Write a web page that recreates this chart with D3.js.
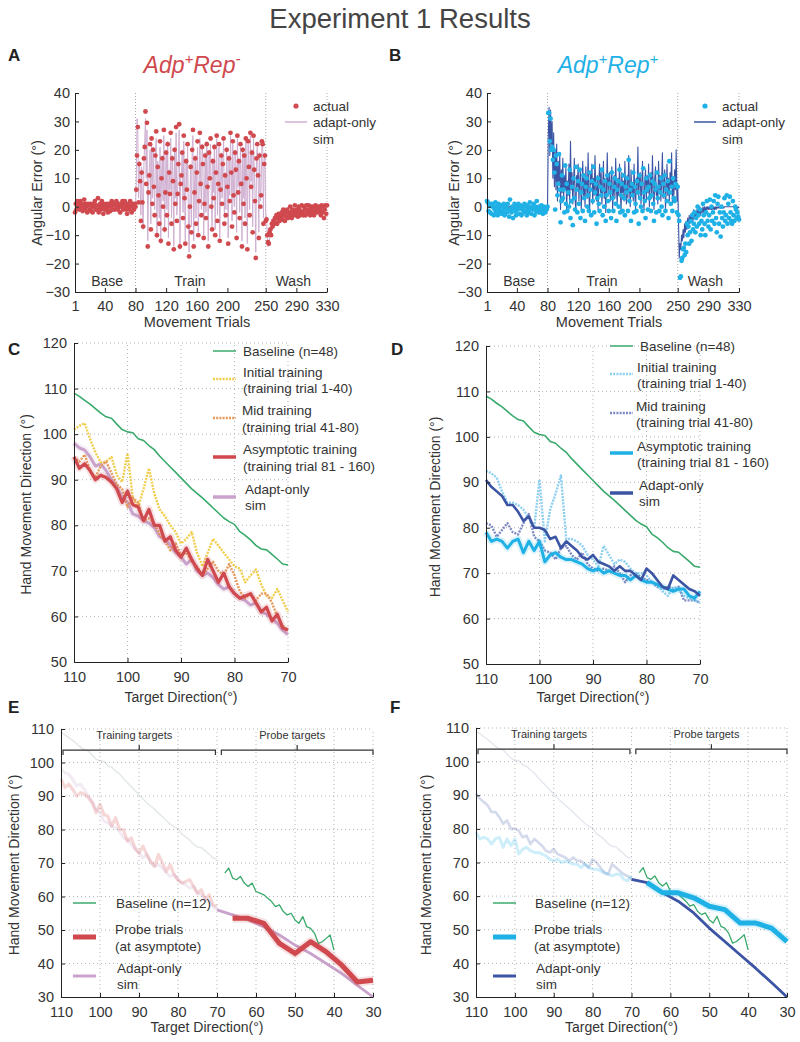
<!DOCTYPE html>
<html>
<head>
<meta charset="utf-8">
<script src="https://cdn.jsdelivr.net/npm/d3@7"></script>
<style>
  body { margin: 0; background: #fff; }
  text { font-family: Arial, "Liberation Sans", Helvetica, sans-serif; }
</style>
</head>
<body>
<svg id="fig" width="800" height="1042"></svg>
<script>
// ---------- panel A / B : trial-by-trial angular error ----------
var trialTicks = [1, 40, 80, 120, 160, 200, 250, 290, 330];
var errTicks = [-30, -20, -10, 0, 10, 20, 30, 40];
var phaseLines = [80, 250, 330];
var phaseNames = ["Base", "Train", "Wash"];

var aActualBase = [-2,1,-1,2,0.5,1.5,-1,2,0,1, -1.5,0,2.5,-1,1,0,-2,1,0.5,-1, 1,-1.5,0,-2,1,0,2,-1,0.5,-1,
  3,-2,0,1,-1,2,0,-2.5,1,-1, 0,-1,1,-2,0,1,-1.5,0,2,-1, 1,0.5,-1,1,2,0,-1,1,0,-2,
  1,0,2,-1,1,2,0,-1,-2.5,1, 0,-1,2,0,-2,1,0.5,-1,1,0];
var aActualTrain = [6,18,28,1.5,15,9,-5,12,1.5,-7, 17,21,33.5,8,29.5,-14,5,11,22,-8, 24,1,20,7,-3,18,26.5,-10,14,4,
  -6,23,-12,10,17,0,27,-8,5,19, -3,22,-13,12,4.5,26,-6,17,9,-15, 20,1,28,-5,4.5,15,29,-14,8,11,
  19,-4,25,3,-13,16,6,22,-7,-17.5, 0,14,-9,20,27,-14,5,17,-6,12, 23,-10,2,26,8,-3,21,15,-11,1,
  18,-4,22,7,-14,19,10,24,0,-8, 16,3,21,-10,12,25,-5,8,22,-12, 6,18,1,15,24,-6,11,-3,20,7,
  -13,17,2,26,12,-7,23,4,-2,19, 13,-11,25,5,16,-4,22,8,-14,20, 1,18,-6,24,10,-15,23,14,-3,26,
  7,19,-9,25,13,2,-18,17,22,11, -11,18,0,4,23,22,-6,15,18,-5];
var aActualWash = [-4.5,-10,-12.5,-13,-9,-8,-10,-6,-7,-5, -6,-4,-5.5,-3,-6,-4,-2.5,-5,-3,-4, -2,-4.5,-1,-3,-5,-2,-3.5,-1,-4,-2,
  -3,0,-2,-4,-1,-3,-2,0.5,-3,-1, -2,-3.5,0,-1,-3,-2,0.5,-2,-3,0, -1,-3,0.5,-2,-1,0.5,-2,-3,0,-1,
  -2,0,-3,-1,0.5,-2,0,-1,-2,0, -1,-3,0.5,-2,0,-4,-1,0.5,-2.5,0.5];

var aSimBase = [0,0.5,0.2,0.4,0.1,0.3,-0.1,0.2,0,0.3, -0.2,0,0.4,-0.1,0.2,0,-0.3,0.1,0.2,-0.1, 0.2,-0.2,0,-0.3,0.1,0,0.3,-0.1,0.1,-0.1,
  0.4,-0.2,0,0.2,-0.1,0.3,0,-0.3,0.1,-0.1, 0,-0.1,0.2,-0.2,0,0.1,-0.2,0,0.3,-0.1, 0.2,0.1,-0.1,0.1,0.3,0,-0.1,0.2,0,-0.3,
  0.1,0,0.3,-0.1,0.1,0.3,0,-0.1,-0.3,0.1, 0,-0.1,0.3,0,-0.2,0.1,0,-0.1,0.1,0];
var aSimTrain = [8,31,26,3,16,10,-3,14,3,-8, 15,23,31,10,27,-12,6,13,20,-6, 22,3,21,8,-1,19,24,-11,16,5,
  -4,21,-13,12,18,2,25,-9,7,20, -1,23,-11,13,6,24,-4,18,10,-14, 21,3,26,-3,6,17,27,-15,10,12,
  20,-2,23,5,-12,17,7,21,-5,-16, 2,15,-7,21,25,-12,7,18,-4,13, 21,-9,4,24,10,-1,22,16,-10,3,
  19,-2,23,9,-12,20,11,22,2,-7, 17,5,22,-8,13,24,-3,10,21,-11, 8,19,3,16,23,-4,12,-1,21,9,
  -11,18,4,25,13,-5,22,6,0,20, 14,-9,24,7,17,-2,21,10,-12,21, 3,19,-4,23,12,-13,22,15,-1,25,
  9,20,-7,24,14,4,-16,18,21,12, -9,19,2,6,22,23,-4,16,19,-3];
var aSimWash = [-3,-11,-14,-13,-11,-10,-9.5,-8.5,-8,-7.5, -7,-6.5,-6,-6,-5.5,-5,-5,-4.5,-4.5,-4, -4,-3.5,-3.5,-3.5,-3,-3,-3,-2.5,-2.5,-2.5,
  -2.5,-2,-2,-2,-2,-2,-1.5,-1.5,-1.5,-1.5, -1.5,-1.5,-1.5,-1,-1,-1,-1,-1,-1,-1, -1,-1,-1,-0.5,-0.5,-0.5,-0.5,-0.5,-0.5,-0.5,
  -0.5,-0.5,-0.5,-0.5,-0.5,-0.5,-0.5,-0.5,-0.5,-0.5, -0.5,0,0,0,0,0,0,0,0,0];

var bActualBase = [2,1.5,-1.5,0.5,-2,1,-2.5,0,1,-3, -1,1.5,-2,0,-3,1,-1,-2,0.5,-2.5, 0,-1.5,1,-3,-0.5,0,-2,1,-1,-3.5,
  2.5,-1,-2,0,-4,-0.5,1,-1.5,-3,0, -1,1,-2.5,-0.5,0.5,-3,-1,0,-2,1, -1.5,0,-3,0.5,-1,-2,1.5,-0.5,-2.5,0,
  -1,1,-3,0,-1.5,2,-0.5,-2,0,-1, -2,0.5,-1,-2.5,0,-1,-2,-0.5,-1,0];
var bActualTrain = [33,33,23,31,20,21,16.5,20,12,-1, 18,15,4,8,18.5,6,-5.5,2,11,3, 6,-2,14.5,1,8,-1.5,5,0,13,-4,
  2,7,-6.5,10,3,-1,14,6,-2,9, 1,13,-4,5,8,-1.5,11,3,-5,7, 10,0,4,-1.5,12,6,-3,9,2,14,
  -2,5,8,-6,3,10,1,-1.5,7,4, 13,-3,6,0,9,-5,4,11,2,-1.5, 8,5,-4,12,3,-1.5,7,10,1,-5,
  6,9,0,13,-2,4,8,-1.5,11,3, -3,7,5,10,-1.5,16.5,2,6,-5,8, 4,12,-2,7,1,-1.5,9,5,-6,11,
  3,0,8,-1.5,13.5,5,2,-4,10,6, -1,7,3,11,-1.5,4,9,1,-5,8, 6,-2,12,3,7,-1.5,5,10,0,-3,
  8,4,11,-1.5,6,2,9,-4,16,5, 1,7,-1.5,10,3,2,8,7.5,-2,7];
var bActualWash = [-3,-5,-25,-24.5,-19,-18,-15,-14.5,-17,-13, -16,-6,-10,-7,-13,-9,-5,-12,-3,-8, -6,-2,-9,-4,-7,0,-3,-6,-1,-10,
  -5,-8,1,-3,-6,-10,-2,2,-5,-7, -3,2.5,-8,0,-5,-2,2,-6,4,-4, -9,1,3.5,-6,-2,-10.5,0,-4,-7,-2,
  3,-5,-3,4,-6,1,-4,3.5,-2,-5, -6,2,-3,-5,0,-1,-4,-2,-3.5,-4.5];

var bSimBase = [0.2,0.1,-0.1,0,-0.2,0.1,-0.2,0,0.1,-0.3, -0.1,0.1,-0.2,0,-0.3,0.1,-0.1,-0.2,0,-0.2, 0,-0.1,0.1,-0.3,0,0,-0.2,0.1,-0.1,-0.3,
  0.2,-0.1,-0.2,0,-0.3,0,0.1,-0.1,-0.3,0, -0.1,0.1,-0.2,0,0,-0.3,-0.1,0,-0.2,0.1, -0.1,0,-0.3,0,-0.1,-0.2,0.1,0,-0.2,0,
  -0.1,0.1,-0.3,0,-0.1,0.2,0,-0.2,0,-0.1, -0.2,0,-0.1,-0.2,0,-0.1,-0.2,0,-0.1,0];
var bSimTrain = [25,35,18,34,22,30,10,26,7,20, 6,22,2,16,9,19,-1,13,5,17, 2,11,6,14,-1,9,4,15,1,23,
  6,12,1,8,17,3,-2,11,7,15, 2,9,13,-1,6,16,4,10,0,14, 7,3,19,5,-2,12,8,15,1,10,
  4,18,6,2,11,-1,9,15,5,12, 1,7,16,3,10,-2,6,19,4,9, 12,2,8,14,-1,5,11,3,17,6,
  1,10,4,15,7,-2,12,5,9,2, 16,6,1,11,3,18,7,0,13,5, 8,2,15,4,-1,10,6,21,3,9,
  12,1,7,16,4,-1,9,13,2,11, 5,15,0,8,12,3,18,6,-1,10, 14,4,7,1,16,6,11,2,9,19,
  3,8,13,-1,6,15,4,10,2,12, 7,19,1,9,4,13,6,20,2,8];
var bSimWash = [-5,-18,-13,-15,-10,-12,-8,-11,-6,-9, -5,-8,-4,-7,-3,-6,-3,-5,-2,-5, -1,-4,-2,-4,-1,-3,-1,-3,0,-3,
  -1,-2,0,-2,0,-2,0,-1,0,-1, 0,-1,0,-1,0,-1,0,-1,0,-1, 0,-0.5,0,-0.5,0,-0.5,0,-0.5,0,-0.5,
  0,0,0,0,0,0,0,0,0,0, 0,0,0,0,0,-0.5,0,-0.5,0,-0.5];

var aActual = aActualBase.concat(aActualTrain, aActualWash);
var aSim = aSimBase.concat(aSimTrain, aSimWash);
var bActual = bActualBase.concat(bActualTrain, bActualWash);
var bSim = bSimBase.concat(bSimTrain, bSimWash);

// ---------- panel C / D : generalisation over training targets ----------
var dirs = [110,109,108,107,106,105,104,103,102,101,100,99,98,97,96,95,94,93,92,91,90,
  89,88,87,86,85,84,83,82,81,80,79,78,77,76,75,74,73,72,71,70];
var dirTicksCD = [110, 100, 90, 80, 70];
var hmdTicksCD = [50, 60, 70, 80, 90, 100, 110, 120];

var baseline48 = [109.0,108.3,107.4,106.6,105.6,104.6,103.8,103.5,102.2,101.0,
  100.5,100.3,99.0,98.6,97.5,96.6,95.2,94.0,92.8,91.6,
  90.4,89.2,88.0,87.0,86.0,84.9,83.8,82.7,81.6,80.8,
  80.2,78.6,77.8,76.8,75.6,74.8,74.6,73.6,72.6,71.5, 71.3];
var cInitial = [101,101.8,102.4,99,96,93.8,94,95,91,89.5, 95.8,86,84,88,92.5,87,83.5,82,80,78.5,
  76,77,78.5,74,71,74,77,75.5,74,72.5, 71,70.5,67.5,69,70.3,67,64.5,64,66,63.5, 61];
var cMid = [95,94,95.5,92,90.5,93,94,91.5,89,88, 84,86,85,81,81.5,80.5,78,76.5,74.5,76,
  73.5,74,72,71,69,70.5,72,70,69,71.5, 69,65.5,64,65,63.5,65,65,63,60,58, 57];
var cAsym = [95,92.5,93.5,92,90,91,90.5,89.5,88,85, 87.5,84.5,84,81,83.5,80,80,76.5,77.5,74.5,
  73,75,72.5,70.5,69,72.5,70,67.5,69.5,66.5, 65,64,64.5,65,63,61,62,59,60.5,57.5, 57];
var cSim = [98,97,96.5,95,93,93.5,92,90,88.5,86, 85,82.5,82,81,80.5,79.5,77.5,77,75.5,74,
  73,71.5,72.5,70,69,69.5,68.5,67,66,66.5, 65,64,63.5,62.5,63,61,60.5,59.5,58.5,57, 56];

var dInitial = [92.5,92,91,88,85.5,85.5,85,84,82,80, 90.6,77,84,87.5,91.5,77.5,77.5,77,76,74,
  73,71.5,76,74,72,73,72.5,71,70,70, 69.5,68,67.5,66,65,67,66.5,65,64.5,64, 63.5];
var dMid = [81,80.5,78,79.5,81,79,78.5,81,83,78, 77,75,74.5,73,75.5,76,74,73,74.5,72,
  71,70.5,71,70.5,71.5,70,68,69.5,70,69, 68.5,68,67,66.5,67,66.5,67,64,64,64, 63.5];
var dAsym = [79,77,77.5,77,75.5,77,77.5,74.5,77,75, 77,72.5,74,74.5,73.5,73,73,72.5,72,71,
  70.5,71,70,70.5,70,69.5,69.5,68.5,69.5,68.5, 68,68,67.5,67,66.5,66,66.5,66.5,65,64.5, 66];
var dSim = [90.5,89,88,87,85,85,83.5,81.5,82.5,80, 80,79.5,77.5,78,75.5,77,76,75,73.5,73,
  74,72.5,72,71.5,70.5,71.5,70.5,70.5,69.5,68.5, 71,70,68.5,67,66.5,69.5,68.5,67.5,66.5,66, 65];

// ---------- panel E / F : probe targets ----------
var dirTicksEF = [110, 100, 90, 80, 70, 60, 50, 40, 30];
var hmdTicksEF = [30, 40, 50, 60, 70, 80, 90, 100, 110];
var probeBaseDirs = [68,67,66,65,64,63,62,61,60,59,58,57,56,55,54,53,52,51,50,49,48,47,46,45,44,43,42,41,40];
var probeBaseline12 = [67,68.5,65.5,65,66,64,63,64,61.5,61, 60.5,59.5,58.5,57,57.5,55.5,54.5,55,53,52,
  54,51,50.5,49,46,46.5,47.5,48.5,44];
var probeDirs = [66, 62, 58, 54, 50, 46, 42, 38, 34, 30];
var simProbeDirs = [70, 66, 62, 58, 54, 50, 46, 42, 38, 34, 30];
var eProbe = [53.5, 53.5, 52, 46, 43, 46.5, 43.5, 39.5, 34.5, 35];
var eSimProbe = [56, 54.5, 53, 51, 48.5, 45.5, 43, 40, 37, 33.5, 30];
var fProbe = [64, 61, 61, 59.5, 57, 56, 52, 52, 50.5, 46.5];
var fSimProbe = [65, 64, 61, 58.5, 55, 50.5, 46.5, 42.5, 38.5, 34.3, 30];

var col = {
  red: "#d0494e", lav: "#c9a2cb", cyan: "#1fb1e6", navy: "#3b54a4", green: "#3aaa6c",
  yellow: "#f1cd4c", orange: "#e59a5c", sky: "#8ccff0", slate: "#7e88c2", text: "#333"
};

var svg = d3.select("#fig");

svg.append("text").attr("x", 400).attr("y", 28).attr("text-anchor", "middle")
  .attr("font-size", 27.5).attr("fill", "#444").text("Experiment 1 Results");

function letter(x, y, t) {
  svg.append("text").attr("x", x).attr("y", y).attr("font-size", 17)
    .attr("font-weight", "bold").attr("fill", "#222").text(t);
}
letter(8, 61, "A"); letter(389, 61, "B");
letter(8, 355, "C"); letter(391, 355, "D");
letter(8, 713, "E"); letter(390, 713, "F");

function drawAxes(g, x, y, xt, yt, fs, xpad, ypad) {
  var ax = g.append("g").attr("transform", `translate(0,${y.range()[0]})`)
    .call(d3.axisBottom(x).tickValues(xt).tickSizeInner(-4).tickSizeOuter(0).tickPadding(xpad));
  var ay = g.append("g").attr("transform", `translate(${x.range()[0]},0)`)
    .call(d3.axisLeft(y).tickValues(yt).tickSizeInner(-4).tickSizeOuter(0).tickPadding(ypad));
  [ax, ay].forEach(a => {
    a.attr("font-size", fs).attr("font-family", null);
    a.selectAll("path, line").attr("stroke", "#222").attr("stroke-width", 1);
    a.selectAll("text").attr("fill", col.text);
  });
}

function grid(g, x, y, xv, yv) {
  g.selectAll(null).data(xv).join("line")
    .attr("x1", d => x(d)).attr("x2", d => x(d))
    .attr("y1", y.range()[0]).attr("y2", y.range()[1])
    .attr("stroke", "#b5b5b5").attr("stroke-dasharray", "1,3");
  g.selectAll(null).data(yv).join("line")
    .attr("y1", d => y(d)).attr("y2", d => y(d))
    .attr("x1", x.range()[0]).attr("x2", x.range()[1])
    .attr("stroke", "#b5b5b5").attr("stroke-dasharray", "1,3");
}

function series(g, x, y, xs, ys, color, w, o) {
  o = o || {};
  var line = d3.line().x((d, i) => x(xs[i])).y(d => y(d));
  if (o.band) {
    g.append("path").datum(ys).attr("d", line).attr("fill", "none")
      .attr("stroke", color).attr("stroke-width", w + 4).attr("stroke-opacity", 0.16)
      .attr("stroke-linejoin", "round");
  }
  g.append("path").datum(ys).attr("d", line).attr("fill", "none")
    .attr("stroke", color).attr("stroke-width", w)
    .attr("stroke-opacity", o.op || 1)
    .attr("stroke-dasharray", o.dash || null)
    .attr("stroke-linejoin", "round");
}

function label(g, x, y, t, fs, rot, anchor) {
  var el = g.append("text").attr("font-size", fs).attr("fill", col.text)
    .attr("text-anchor", anchor || "middle");
  if (rot) el.attr("transform", `translate(${x},${y}) rotate(-90)`);
  else el.attr("x", x).attr("y", y);
  el.text(t);
  return el;
}

function legendItem(g, x0, x1, ly, tx, lines, color, w, dash, dot) {
  if (dot) {
    g.append("circle").attr("cx", (x0 + x1) / 2).attr("cy", ly).attr("r", 2.6).attr("fill", color);
  } else {
    g.append("line").attr("x1", x0).attr("x2", x1).attr("y1", ly).attr("y2", ly)
      .attr("stroke", color).attr("stroke-width", w).attr("stroke-dasharray", dash || null);
  }
  lines.forEach(l => label(g, tx, l[1] + 5, l[0], 13.5, false, "start"));
}

function title(x, y, color, sup2) {
  var t = svg.append("text").attr("x", x).attr("y", y).attr("text-anchor", "middle")
    .attr("font-size", 23).attr("font-style", "italic").attr("fill", color);
  t.append("tspan").text("Adp");
  t.append("tspan").attr("dy", -9).attr("font-size", 15).text("+");
  t.append("tspan").attr("dy", 9).text("Rep");
  t.append("tspan").attr("dy", -9).attr("font-size", 15).text(sup2);
}

// ---------- A and B ----------
function trialPanel(x0, x1, actual, sim, dotColor, simColor, simW, yl, legX) {
  var g = svg.append("g");
  var x = d3.scaleLinear().domain([1, 330]).range([x0, x1]);
  var y = d3.scaleLinear().domain([-30, 40]).range([292, 93]);
  g.selectAll(null).data(phaseLines).join("line")
    .attr("x1", d => x(d)).attr("x2", d => x(d)).attr("y1", 292).attr("y2", 93)
    .attr("stroke", "#aaa").attr("stroke-dasharray", "1,2");
  series(g, x, y, sim.map((d, i) => i + 1), sim, simColor, simW);
  g.selectAll(null).data(actual).join("circle")
    .attr("cx", (d, i) => x(i + 1)).attr("cy", d => y(d)).attr("r", 2.4).attr("fill", dotColor);
  drawAxes(g, x, y, trialTicks, errTicks, 14.5, 9, 5);
  var phaseAt = [43, 151, 286];
  phaseNames.forEach((p, i) => label(g, x(phaseAt[i]), 286, p, 14));
  label(g, (x0 + x1) / 2 - 4, 327, "Movement Trials", 14.5);
  label(g, yl, 193, "Angular Error (°)", 14.5, true);
  legendItem(g, legX - 22, legX - 4, 106, legX + 4, [["actual", 106]], dotColor, 0, null, true);
  legendItem(g, legX - 24, legX - 2, 122, legX + 4, [["adapt-only", 122], ["sim", 139]], simColor, 1.5);
}
title(192, 73, col.red, "-");
title(608, 73, col.cyan, "+");
trialPanel(75, 327, aActual, aSim, col.red, "#d0b0d2", 1.0, 42, 309);
trialPanel(487, 739, bActual, bSim, col.cyan, col.navy, 1.1, 459, 718);

// ---------- C and D ----------
function dirPanel(x0, x1, yb, yt, yl, data, legX, baseY) {
  var g = svg.append("g");
  var x = d3.scaleLinear().domain([110, 70]).range([x0, x1]);
  var y = d3.scaleLinear().domain([50, 120]).range([yb, yt]);
  grid(g, x, y, [100, 90, 80, 70], [60, 70, 80, 90, 100, 110, 120]);
  data.forEach(s => series(g, x, y, dirs, s.v, s.c, s.w, s.o));
  drawAxes(g, x, y, dirTicksCD, hmdTicksCD, 14.5, 10, 7);
  label(g, (x0 + x1) / 2, 702, "Target Direction(°)", 14);
  label(g, yl, (yb + yt) / 2 + 2, "Hand Movement Direction (°)", 14, true);
  legendItem(g, legX, legX + 23, baseY, legX + 30, [["Baseline (n=48)", baseY]], data[0].c, 1.5);
  return {g: g, x: x, y: y};
}
var cData = [
  {v: baseline48, c: col.green, w: 1.6},
  {v: cSim, c: col.lav, w: 3, o: {band: true}},
  {v: cInitial, c: col.yellow, w: 2.4, o: {dash: "2,1.2"}},
  {v: cMid, c: col.orange, w: 2.4, o: {dash: "2,1.2"}},
  {v: cAsym, c: col.red, w: 3.2, o: {band: true}}
];
var C = dirPanel(74, 288, 662, 343, 31, cData, 213, 351);
legendItem(C.g, 213, 236, 379, 243, [["Initial training", 372], ["(training trial 1-40)", 388]], col.yellow, 2.6, "2,1.2");
legendItem(C.g, 213, 236, 418, 242, [["Mid training", 410], ["(training trial 41-80)", 427]], col.orange, 2.6, "2,1.2");
legendItem(C.g, 213, 236, 457, 243, [["Asymptotic training", 449], ["(training trial 81 - 160)", 466]], col.red, 3.5);
legendItem(C.g, 213, 236, 497, 245, [["Adapt-only", 489], ["sim", 505]], col.lav, 3.5);

var dData = [
  {v: baseline48, c: col.green, w: 1.6},
  {v: dMid, c: col.slate, w: 2.4, o: {dash: "2,1.2"}},
  {v: dInitial, c: col.sky, w: 2.4, o: {dash: "2,1.2"}},
  {v: dAsym, c: col.cyan, w: 3, o: {band: true}},
  {v: dSim, c: col.navy, w: 2.6}
];
var D = dirPanel(486, 700, 664, 346, 440, dData, 610, 346);
legendItem(D.g, 610, 633, 374, 637, [["Initial training", 367], ["(training trial 1-40)", 383]], col.sky, 2.6, "2,1.2");
legendItem(D.g, 610, 633, 413, 636, [["Mid training", 406], ["(training trial 41-80)", 422]], col.slate, 2.6, "2,1.2");
legendItem(D.g, 610, 633, 453, 637, [["Asymptotic training", 446], ["(training trial 81 - 160)", 462]], col.cyan, 3.5);
legendItem(D.g, 610, 633, 493, 639, [["Adapt-only", 485], ["sim", 501]], col.navy, 3.5);

// ---------- E and F ----------
function probePanel(x0, x1, yt, faded, probe, probeColor, simProbe, simColor, legX, legTx) {
  var g = svg.append("g");
  var x = d3.scaleLinear().domain([110, 30]).range([x0, x1]);
  var y = d3.scaleLinear().domain([30, 110]).range([997, yt]);
  grid(g, x, y, [100, 90, 80, 70, 60, 50, 40, 30], [40, 50, 60, 70, 80, 90, 100, 110]);
  faded.forEach(s => series(g, x, y, dirs, s.v, s.c, s.w, {op: 0.22}));
  series(g, x, y, probeBaseDirs, probeBaseline12, col.green, 1.3);
  series(g, x, y, simProbeDirs, simProbe, simColor, 2.8);
  series(g, x, y, probeDirs, probe, probeColor, 5, {band: true});
  drawAxes(g, x, y, dirTicksEF, hmdTicksEF, 14.5, 10, 7);
  // target-group brackets
  var by = y(103.7);
  [[110, 70.4, "Training targets"], [69.4, 30, "Probe targets"]].forEach(b => {
    var xa = x(b[0]) + 2, xb = x(b[1]), xm = (xa + xb) / 2;
    g.append("path").attr("d", `M${xa},${by + 5}V${by}H${xb}V${by + 5}M${xm},${by}V${by - 5}`)
      .attr("fill", "none").attr("stroke", "#333").attr("stroke-width", 1.2);
    label(g, xm - 5, by - 11, b[2], 11);
  });
  label(g, (x0 + x1) / 2 - 10, 1032, "Target Direction(°)", 14);
  legendItem(g, legX, legX + 23, 903, legTx, [["Baseline (n=12)", 903]], col.green, 1.5);
  legendItem(g, legX, legX + 23, 937, legTx - 1, [["Probe trials", 929], ["(at asymptote)", 946]], probeColor, 5);
  legendItem(g, legX, legX + 23, 976, legTx + 1, [["Adapt-only", 968], ["sim", 984]], simColor, 3);
  return g;
}
var E = probePanel(61, 373, 729, [
  {v: baseline48, c: "#7f9a90", w: 1.5},
  {v: cSim, c: col.lav, w: 3},
  {v: cAsym, c: col.red, w: 3.2}
], eProbe, col.red, eSimProbe, col.lav, 73, 116);
label(E, 19, 865, "Hand Movement Direction (°)", 14, true);
var F = probePanel(476, 787, 728, [
  {v: baseline48, c: "#8a96b5", w: 1.5},
  {v: dSim, c: col.navy, w: 2.6},
  {v: dAsym, c: col.cyan, w: 3}
], fProbe, col.cyan, fSimProbe, col.navy, 493, 535);
label(F, 431, 865, "Hand Movement Direction (°)", 14, true);
</script>
</body>
</html>
